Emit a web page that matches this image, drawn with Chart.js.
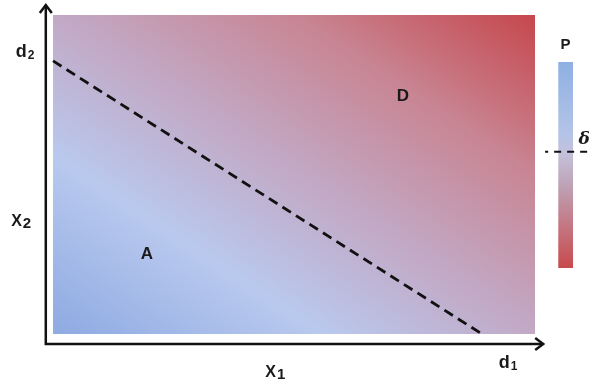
<!DOCTYPE html>
<html>
<head>
<meta charset="utf-8">
<script src="https://cdn.jsdelivr.net/npm/chart.js@4"></script>
<style>
  body { margin: 0; background: #fff; }
</style>
</head>
<body>
<canvas id="myChart" width="589" height="384"></canvas>
<script>
// decision region (data units)
const regionX = [0, 10];
const regionTop = 10;
const regionBottom = 0;

// dashed decision boundary
const boundaryX = [0, 8.9];
const boundaryY = [8.56, 0];

// region labels
const regionLabels = ["A", "D"];
const regionLabelX = [1.95, 7.26];
const regionLabelY = [2.5, 7.46];

// axes: origin and arrow ends
const axisOrigin = [-0.15, -0.31];
const xAxisEnd = 10.17;
const yAxisEnd = 10.31;

// axis labels: text, subscript, x, y
const axisLabels = ["d", "X", "X", "d"];
const axisSubs = ["2", "2", "1", "1"];
const axisLabelX = [-0.58, -0.66, 4.61, 9.44];
const axisLabelY = [8.84, 3.51, -1.22, -0.91];

// colour bar P with threshold
const barX = [10.48, 10.79];
const barTop = 8.53;
const barBottom = 2.07;
const thresholdX = [10.21, 11.12];
const thresholdY = 5.71;
const barTitle = "P";
const thresholdLabel = "δ";

const finite = (...v) => v.every((n) => Number.isFinite(n));

const diagGradient = (ctx) => {
  const { chart } = ctx;
  const xs = chart.scales.x, ys = chart.scales.y;
  if (!xs || !ys) return "#c0a8c4";
  const x0 = xs.getPixelForValue(regionX[0]), x1 = xs.getPixelForValue(regionX[1]);
  const y0 = ys.getPixelForValue(regionBottom), y1 = ys.getPixelForValue(regionTop);
  if (!finite(x0, x1, y0, y1) || x1 === x0) return "#c0a8c4";
  const w = x1 - x0, h = y0 - y1;
  const cx = (x0 + x1) / 2, cy = (y0 + y1) / 2;
  const k = (w * h) / (w * w + h * h);
  const g = chart.ctx.createLinearGradient(cx - k * h, cy + k * w, cx + k * h, cy - k * w);
  g.addColorStop(0, "#8eaae2");
  g.addColorStop(0.28, "#b9c9ee");
  g.addColorStop(0.5, "#c2a9c6");
  g.addColorStop(0.75, "#c88593");
  g.addColorStop(1, "#c6474d");
  return g;
};

const barGradient = (ctx) => {
  const { chart } = ctx;
  const ys = chart.scales.y;
  if (!ys) return "#c0b4c8";
  const t = ys.getPixelForValue(barTop), b = ys.getPixelForValue(barBottom);
  if (!finite(t, b) || t === b) return "#c0b4c8";
  const g = chart.ctx.createLinearGradient(0, t, 0, b);
  g.addColorStop(0, "#8eb0e2");
  g.addColorStop(0.35, "#b4c4e8");
  g.addColorStop(0.45, "#c4c0da");
  g.addColorStop(0.6, "#bea2b6");
  g.addColorStop(1, "#c84a4c");
  return g;
};

const annotations = {
  id: "annotations",
  afterDatasetsDraw(chart) {
    const { ctx } = chart;
    const xs = chart.scales.x, ys = chart.scales.y;
    ctx.save();
    ctx.fillStyle = "#1a1a1a";
    ctx.strokeStyle = "#111";
    ctx.lineWidth = 2.5;

    // arrow heads
    const ox = xs.getPixelForValue(axisOrigin[0]);
    const oy = ys.getPixelForValue(axisOrigin[1]);
    const ex = xs.getPixelForValue(xAxisEnd);
    const ey = ys.getPixelForValue(yAxisEnd);
    ctx.beginPath();
    ctx.moveTo(ex - 8, oy - 6);
    ctx.lineTo(ex, oy);
    ctx.lineTo(ex - 8, oy + 6);
    ctx.moveTo(ox - 6, ey + 8);
    ctx.lineTo(ox, ey);
    ctx.lineTo(ox + 6, ey + 8);
    ctx.stroke();

    ctx.textBaseline = "middle";
    ctx.textAlign = "center";
    ctx.font = "bold 17px 'Liberation Sans', Arial, sans-serif";
    regionLabels.forEach((t, i) => {
      ctx.fillText(t, xs.getPixelForValue(regionLabelX[i]), ys.getPixelForValue(regionLabelY[i]));
    });

    ctx.textAlign = "left";
    axisLabels.forEach((t, i) => {
      const big = t === "X";
      const baseFont = big ? "bold 16px 'Liberation Sans', Arial, sans-serif" : "bold 18px 'Liberation Sans', Arial, sans-serif";
      const subFont = big ? "bold 15px 'Liberation Sans', Arial, sans-serif" : "bold 12px 'Liberation Sans', Arial, sans-serif";
      ctx.font = baseFont;
      const wb = ctx.measureText(t).width;
      ctx.font = subFont;
      const ws = ctx.measureText(axisSubs[i]).width;
      const left = xs.getPixelForValue(axisLabelX[i]) - (wb + ws + 1) / 2;
      const y = ys.getPixelForValue(axisLabelY[i]);
      ctx.font = baseFont;
      ctx.fillText(t, left, y);
      ctx.font = subFont;
      ctx.fillText(axisSubs[i], left + wb + 1, y + (big ? 2 : 4));
    });

    ctx.textAlign = "center";
    ctx.font = "bold 15px 'Liberation Sans', Arial, sans-serif";
    ctx.fillText(barTitle, xs.getPixelForValue((barX[0] + barX[1]) / 2), ys.getPixelForValue(9.06));
    ctx.font = "italic bold 17px 'DejaVu Serif', serif";
    ctx.fillText(thresholdLabel, xs.getPixelForValue(11.02), ys.getPixelForValue(6.08));
    ctx.restore();
  },
};

const ctx = document.getElementById("myChart");

const myChart = new Chart(ctx, {
  type: "scatter",
  data: {
    datasets: [
      {
        label: "region",
        data: regionX.map((x) => ({ x, y: regionTop })),
        showLine: true,
        borderWidth: 0,
        pointRadius: 0,
        fill: { value: regionBottom },
        backgroundColor: diagGradient,
        order: 10,
      },
      {
        label: "colour bar",
        data: barX.map((x) => ({ x, y: barTop })),
        showLine: true,
        borderWidth: 0,
        pointRadius: 0,
        fill: { value: barBottom },
        backgroundColor: barGradient,
        order: 9,
      },
      {
        label: "boundary",
        data: boundaryX.map((x, i) => ({ x, y: boundaryY[i] })),
        showLine: true,
        borderColor: "#111",
        borderWidth: 2.8,
        borderDash: [10, 6],
        pointRadius: 0,
        order: 1,
      },
      {
        label: "threshold",
        data: thresholdX.map((x) => ({ x, y: thresholdY })),
        showLine: true,
        borderColor: "#111",
        borderWidth: 2,
        borderDash: [7, 6],
        borderDashOffset: 4,
        pointRadius: 0,
        order: 1,
      },
      {
        label: "axes",
        data: [
          { x: axisOrigin[0], y: yAxisEnd },
          { x: axisOrigin[0], y: axisOrigin[1] },
          { x: xAxisEnd, y: axisOrigin[1] },
        ],
        showLine: true,
        borderColor: "#111",
        borderWidth: 2.5,
        pointRadius: 0,
        order: 0,
      },
    ],
  },
  options: {
    responsive: false,
    animation: false,
    layout: { padding: 0 },
    plugins: {
      legend: { display: false },
      tooltip: { enabled: false },
    },
    scales: {
      x: { type: "linear", display: false, min: -1.1, max: 11.12 },
      y: { type: "linear", display: false, min: -1.567, max: 10.47 },
    },
  },
  plugins: [annotations],
});
</script>
</body>
</html>
